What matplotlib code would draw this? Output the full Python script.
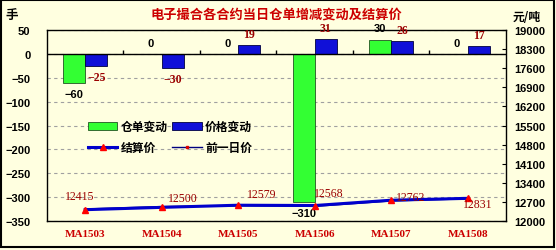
import matplotlib
matplotlib.use("Agg")
import matplotlib.pyplot as plt
import numpy as np
from matplotlib.patches import Rectangle

plt.rcParams['font.family'] = ['Noto Sans CJK SC', 'DejaVu Sans']

categories = ["MA1503", "MA1504", "MA1505", "MA1506", "MA1507", "MA1508"]
warrant_change = [-60, 0, 0, -310, 30, 0]
price_change = [-25, -30, 19, 31, 26, 17]
settle_price = [12415, 12500, 12579, 12568, 12762, 12831]
prev_price = [12440, 12530, 12560, 12537, 12736, 12814]

title = "电子撮合各合约当日仓单增减变动及结算价"
left_unit = "手"
right_unit = "元/吨"
legend_labels = ["仓单变动", "价格变动", "结算价", "前一日价"]

BG = "#FFFFE0"
DARKRED = "#9B0000"

fig = plt.figure(figsize=(5.56, 2.51), dpi=100, facecolor=BG)
ax = fig.add_axes([0.0845, 0.1155, 0.8255, 0.761])
ax.set_facecolor(BG)

x = np.arange(len(categories))
w = 0.288
gb = ax.bar(x - w / 2, warrant_change, w, color="#33FF33", edgecolor="#225522", lw=0.6, zorder=3)
bb = ax.bar(x + w / 2, price_change, w, color="#1010D8", edgecolor="#000040", lw=0.6, zorder=3)

ax.set_ylim(-350, 50)
ax.set_yticks(np.arange(-350, 51, 50))
ax.set_xlim(-0.5, len(categories) - 0.5)
ax.grid(axis='y', color="#A0A0A0", ls=(0, (3, 3)), lw=0.8, zorder=0)
ax.axhline(0, color="black", lw=1.0, zorder=4)
ax.vlines(x[1:] - 0.5, 0, 8, color="black", lw=1.0, zorder=4)

ax.set_xticks(x)
ax.set_xticklabels(categories, family="Liberation Serif", fontweight="bold", fontsize=8, color="#CC0000")
ax.tick_params(axis='x', length=0, pad=6)
ax.tick_params(axis='y', length=0, pad=12)
for lab in ax.get_yticklabels():
    lab.set_fontfamily("Liberation Sans")
    lab.set_fontweight("bold")
    lab.set_fontsize(8)
for s in ax.spines.values():
    s.set_color("black")
    s.set_linewidth(1.0)

# bar labels
for xi, v in zip(x - w / 2, warrant_change):
    off = 8 if v >= 0 else -8
    ax.annotate(f"{v:d}".replace("-", "−"), (xi, v), xytext=(0, off), textcoords="offset points",
                ha="center", va="center", fontsize=8, fontweight="bold",
                family="Liberation Sans", color="black", zorder=6)
for xi, v in zip(x + w / 2, price_change):
    off = 8 if v >= 0 else -8
    ax.annotate(f"{v:d}".replace("-", "−"), (xi, v), xytext=(0, off), textcoords="offset points",
                ha="center", va="center", fontsize=8.5, fontweight="bold",
                family="Liberation Serif", color=DARKRED, zorder=6)

ax2 = ax.twinx()
ax2.set_ylim(12000, 19000)
ax2.set_yticks(np.arange(12000, 19001, 700))
ax2.tick_params(axis='y', direction='in', length=3, pad=6, color="black")
for lab in ax2.get_yticklabels():
    lab.set_fontfamily("Liberation Sans")
    lab.set_fontweight("bold")
    lab.set_fontsize(8)
for s in ax2.spines.values():
    s.set_visible(False)

l2, = ax2.plot(x, prev_price, color="#000080", lw=1.0, marker="s", ms=2,
               mfc="#DD0000", mec="#DD0000", zorder=5)
l1, = ax2.plot(x, settle_price, color="#0000CC", lw=2.2, marker="^", ms=5,
               mfc="#FF0000", mec="#FF0000", zorder=6)

price_offsets = [(-4, 10), (15, 7), (17, 8), (10, 9), (14, 2), (7, -4)]
for xi, v, (dx, dy) in zip(x, settle_price, price_offsets):
    ax2.annotate(f"{v}", (xi, v), xytext=(dx, dy), textcoords="offset points",
                 ha="center", va="center", fontsize=8.5, family="Liberation Serif",
                 color=DARKRED, zorder=7)

handles = [gb, l1, bb, l2]
labels = [legend_labels[0], legend_labels[2], legend_labels[1], legend_labels[3]]
leg = ax2.legend(handles, labels, ncol=2, loc="upper left", bbox_to_anchor=(0.089, 0.53), frameon=False,
                 borderaxespad=0, borderpad=0, handlelength=2.5, handletextpad=0.3,
                 columnspacing=0.35, labelspacing=0.7,
                 prop={"family": ["Noto Sans CJK SC", "DejaVu Sans"], "weight": "bold", "size": 8.5})

fig.text(0.497, 0.94, title, ha="center", va="center", fontsize=9.5, fontweight="bold", color="#CC0000")
fig.text(0.022, 0.94, left_unit, ha="center", va="center", fontsize=9, fontweight="bold", color="black")
fig.text(0.948, 0.93, right_unit, ha="center", va="center", fontsize=8.5, fontweight="bold", color="black")

fig.patches.append(Rectangle((0.002, 0.012), 0.994, 0.984, transform=fig.transFigure,
                             fill=False, edgecolor="black", lw=1.5))

fig.savefig("out.png", dpi=100, facecolor=BG)
